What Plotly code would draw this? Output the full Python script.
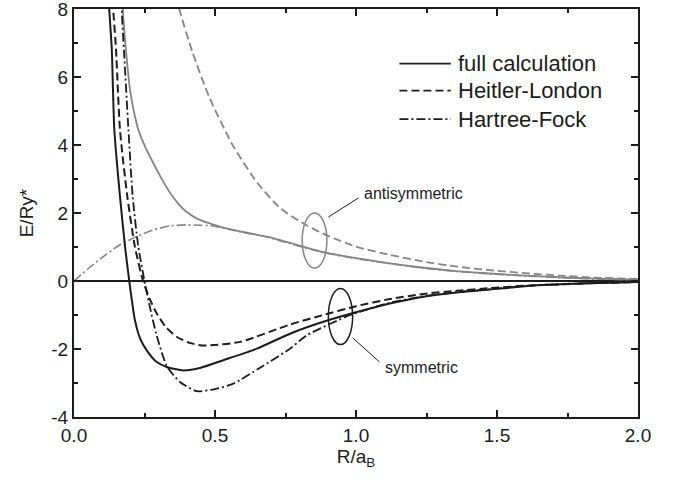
import plotly.graph_objects as go

# ---- data ----
# symmetric, full calculation
R_sym_full = [0.118, 0.125, 0.134, 0.143, 0.163, 0.181, 0.196, 0.216, 0.235, 0.258, 0.29, 0.329, 0.388, 0.45, 0.529, 0.648, 0.766, 0.884, 1.0, 1.12, 1.24, 1.357, 1.475, 1.65, 1.8, 2.0]
E_sym_full = [9.3, 8.0, 6.81, 4.45, 2.49, 1.01, 0.0, -1.15, -1.70, -2.04, -2.36, -2.53, -2.63, -2.55, -2.33, -1.99, -1.55, -1.20, -0.92, -0.66, -0.46, -0.34, -0.25, -0.12, -0.07, -0.03]
# symmetric, Heitler-London
R_sym_hl = [0.132, 0.139, 0.149, 0.163, 0.189, 0.216, 0.245, 0.268, 0.293, 0.325, 0.364, 0.41, 0.459, 0.589, 0.766, 0.884, 1.0, 1.12, 1.24, 1.357, 1.475, 1.6, 1.72, 1.85, 2.0]
E_sym_hl = [9.3, 8.0, 6.81, 4.45, 2.49, 1.01, 0.0, -0.52, -0.95, -1.35, -1.64, -1.82, -1.90, -1.79, -1.28, -1.0, -0.74, -0.53, -0.38, -0.29, -0.21, -0.14, -0.10, -0.06, -0.03]
# symmetric, Hartree-Fock
R_sym_hf = [0.165, 0.169, 0.177, 0.193, 0.208, 0.228, 0.25, 0.270, 0.293, 0.329, 0.376, 0.435, 0.50, 0.565, 0.66, 0.766, 0.825, 0.98, 1.12, 1.24, 1.357, 1.475, 1.65, 1.8, 2.0]
E_sym_hf = [9.3, 8.0, 6.81, 4.45, 2.49, 1.01, 0.0, -0.80, -1.60, -2.50, -2.97, -3.24, -3.18, -3.02, -2.55, -1.99, -1.60, -1.0, -0.64, -0.45, -0.33, -0.24, -0.12, -0.07, -0.03]
# antisymmetric, full calculation
R_anti_full = [0.168, 0.173, 0.184, 0.199, 0.212, 0.228, 0.255, 0.281, 0.31, 0.340, 0.37, 0.40, 0.44, 0.494, 0.577, 0.695, 0.766, 0.884, 1.0, 1.12, 1.24, 1.357, 1.475, 1.6, 1.72, 1.85, 2.0]
E_anti_full = [9.0, 8.0, 6.81, 5.6, 5.0, 4.45, 3.9, 3.47, 3.02, 2.60, 2.27, 2.03, 1.82, 1.66, 1.48, 1.28, 1.12, 0.85, 0.67, 0.52, 0.39, 0.29, 0.22, 0.16, 0.11, 0.07, 0.04]
# antisymmetric, Heitler-London
R_anti_hl = [0.35, 0.373, 0.42, 0.48, 0.565, 0.65, 0.73, 0.82, 0.90, 1.0, 1.12, 1.24, 1.36, 1.475, 1.6, 1.72, 1.85, 2.0]
E_anti_hl = [8.7, 8.0, 6.73, 5.40, 3.96, 2.89, 2.15, 1.66, 1.33, 1.01, 0.77, 0.57, 0.42, 0.32, 0.23, 0.16, 0.10, 0.06]
# antisymmetric, Hartree-Fock
R_anti_hf = [0.0, 0.05, 0.104, 0.16, 0.222, 0.28, 0.34, 0.40, 0.45, 0.494, 0.577, 0.695, 0.766, 0.884, 1.0, 1.12, 1.24, 1.357, 1.475, 1.6, 1.72, 1.85, 2.0]
E_anti_hf = [0.0, 0.36, 0.72, 1.05, 1.31, 1.50, 1.62, 1.65, 1.64, 1.62, 1.47, 1.27, 1.10, 0.84, 0.66, 0.51, 0.38, 0.28, 0.21, 0.15, 0.10, 0.06, 0.03]

legend_labels = ["full calculation", "Heitler-London", "Hartree-Fock"]
x_ticks = [0.0, 0.5, 1.0, 1.5, 2.0]
y_ticks = [-4, -2, 0, 2, 4, 6, 8]

BLACK = "#1c1c1c"
GRAY = "#858585"
DASH = "8px,4px"
DASHDOT = "9px,3px,2px,3px"
FONT = "Liberation Sans, Arial, sans-serif"

fig = go.Figure()

def add(R, E, color, dash, width):
    fig.add_trace(go.Scatter(x=R, y=E, mode="lines", showlegend=False, hoverinfo="skip",
                             line=dict(color=color, dash=dash, width=width, shape="spline", smoothing=0.6)))

add(R_anti_hl, E_anti_hl, GRAY, DASH, 1.8)
add(R_anti_hf, E_anti_hf, GRAY, DASHDOT, 1.6)
add(R_anti_full, E_anti_full, GRAY, "solid", 1.8)
add(R_sym_hl, E_sym_hl, BLACK, DASH, 2)
add(R_sym_hf, E_sym_hf, BLACK, DASHDOT, 1.8)
add(R_sym_full, E_sym_full, BLACK, "solid", 2)

# ellipses marking the two groups
fig.add_shape(type="circle", xref="x", yref="y", x0=0.809, x1=0.897, y0=0.38, y1=2.0,
              line=dict(color=GRAY, width=1.5))
fig.add_shape(type="circle", xref="x", yref="y", x0=0.902, x1=0.988, y0=-1.87, y1=-0.22,
              line=dict(color=BLACK, width=1.5))
# leader lines
fig.add_shape(type="line", xref="x", yref="y", x0=0.902, y0=1.88, x1=1.008, y1=2.44,
              line=dict(color=BLACK, width=1))
fig.add_shape(type="line", xref="x", yref="y", x0=0.988, y0=-1.67, x1=1.083, y1=-2.38,
              line=dict(color=BLACK, width=1))
fig.add_annotation(x=1.022, y=2.57, xref="x", yref="y", text="antisymmetric", showarrow=False,
                   xanchor="left", yanchor="middle", font=dict(size=16, color=BLACK, family=FONT))
fig.add_annotation(x=1.095, y=-2.53, xref="x", yref="y", text="symmetric", showarrow=False,
                   xanchor="left", yanchor="middle", font=dict(size=16, color=BLACK, family=FONT))

# custom legend
leg_y = [0.866, 0.800, 0.730]
leg_dash = ["solid", DASH, DASHDOT]
for lab, yy, dd in zip(legend_labels, leg_y, leg_dash):
    fig.add_shape(type="line", xref="paper", yref="paper", x0=0.577, x1=0.668, y0=yy, y1=yy,
                  line=dict(color=BLACK, width=1.8, dash=dd))
    fig.add_annotation(x=0.678, y=yy, xref="paper", yref="paper", text=lab, showarrow=False,
                       xanchor="left", yanchor="middle", font=dict(size=22, color=BLACK, family=FONT))

axis_common = dict(showline=True, linecolor=BLACK, linewidth=2, mirror="allticks",
                   ticks="inside", ticklen=7, tickwidth=1.5, tickcolor=BLACK, automargin=False,
                   ticklabeloverflow="allow",
                   showgrid=False, tickfont=dict(size=19, color=BLACK, family=FONT),
                   minor=dict(ticks="inside", ticklen=4, tickwidth=1.5, tickcolor=BLACK, showgrid=False))

fig.update_xaxes(range=[0, 2.0], tickvals=x_ticks, ticktext=[f"{v:.1f}" for v in x_ticks],
                 minor_dtick=0.25, zeroline=False,
                 title=dict(text="R/a<sub>B</sub>", font=dict(size=19, color=BLACK, family=FONT), standoff=2),
                 **axis_common)
fig.update_yaxes(range=[-4, 8], tickvals=y_ticks, ticktext=[str(v) for v in y_ticks],
                 minor_dtick=1, zeroline=True, zerolinecolor=BLACK, zerolinewidth=2,
                 title=dict(text="E/Ry*", font=dict(size=19, color=BLACK, family=FONT), standoff=13),
                 **axis_common)

fig.update_layout(width=684, height=487, margin=dict(l=74, r=46, t=9, b=70, pad=0, autoexpand=False),
                  plot_bgcolor="white", paper_bgcolor="white",
                  font=dict(family=FONT, color=BLACK))

fig.write_html("out.html")
